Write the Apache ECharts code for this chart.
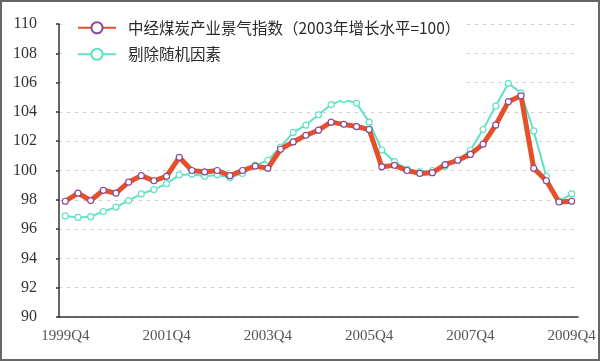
<!DOCTYPE html>
<html>
<head>
<meta charset="utf-8">
<script src="https://cdn.jsdelivr.net/npm/echarts@6/dist/echarts.min.js"></script>
<style>
html,body{margin:0;padding:0;background:#fff;}
#chart{width:600px;height:361px;}
</style>
</head>
<body>
<div id="chart"></div>
<script>
// Quarters 1999Q4 .. 2009Q4
const categories = [];
categories.push('1999Q4');
for (let y = 2000; y <= 2009; y++) { for (let q = 1; q <= 4; q++) categories.push(y + 'Q' + q); }

const seriesNames = ['中经煤炭产业景气指数（2003年增长水平=100）', '剔除随机因素'];

const indexValues = [
  97.9, 98.45, 97.95, 98.65, 98.45, 99.2, 99.65, 99.3, 99.6, 100.9,
  100.0, 99.9, 100.0, 99.65, 100.0, 100.3, 100.15, 101.45, 101.95, 102.4,
  102.75, 103.3, 103.15, 103.0, 102.8, 100.25, 100.35, 100.0, 99.8, 99.85,
  100.4, 100.7, 101.1, 101.8, 103.1, 104.7, 105.1, 100.15, 99.3, 97.85,
  97.9
];

const adjustedValues = [
  96.9, 96.8, 96.85, 97.2, 97.5, 97.95, 98.4, 98.7, 99.1, 99.7,
  99.75, 99.6, 99.7, 99.5, 99.8, 100.35, 100.7, 101.6, 102.6, 103.1,
  103.8, 104.5, 104.85, 104.6, 103.3, 101.4, 100.6, 100.1, 99.9, 100.0,
  100.3, 100.7, 101.4, 102.8, 104.4, 105.95, 105.3, 102.7, 99.6, 97.9,
  98.4
];

const yMin = 90, yMax = 110, yStep = 2;

const chart = echarts.init(document.getElementById('chart'), null, {renderer: 'canvas'});
chart.setOption({
  animation: false,
  backgroundColor: '#fff',
  graphic: [{
    type: 'rect', z: 100, silent: true,
    shape: {x: 1, y: 1, width: 598, height: 359},
    style: {fill: null, stroke: '#666', lineWidth: 2}
  }],
  grid: {left: 59, right: 22, top: 24, bottom: 44, containLabel: false},
  legend: {
    orient: 'vertical',
    left: 62, top: 8,
    padding: [12, 6, 38, 15],
    itemGap: 11,
    itemWidth: 38, itemHeight: 14,
    backgroundColor: '#fff',
    z: 10,
    data: seriesNames,
    textStyle: {fontFamily: '"Noto Sans CJK SC"', fontSize: 15.5, color: '#2a2a2a', padding: [0, 0, 0, 7]}
  },
  xAxis: {
    type: 'category',
    data: categories,
    boundaryGap: true,
    axisLine: {lineStyle: {color: '#333', width: 1.5}},
    axisTick: {inside: true, length: 4, interval: 3, lineStyle: {color: '#333'}},
    axisLabel: {interval: 7, margin: 12, fontFamily: '"Liberation Serif"', fontSize: 15, color: '#555'},
    splitLine: {show: false}
  },
  yAxis: {
    type: 'value',
    min: yMin, max: yMax, interval: yStep,
    axisLine: {show: true, lineStyle: {color: '#333', width: 1.5}},
    axisTick: {show: true, inside: false, length: 3, lineStyle: {color: '#333', width: 1.5}},
    axisLabel: {margin: 22, fontFamily: '"Liberation Serif"', fontSize: 16, color: '#333'},
    splitLine: {show: true, lineStyle: {color: '#cfcfcf', type: [3, 5], width: 1}}
  },
  series: [
    {
      name: seriesNames[0],
      type: 'line',
      data: indexValues,
      z: 3,
      symbol: 'circle', symbolSize: 6,
      lineStyle: {color: '#e4502a', width: 5},
      itemStyle: {color: '#fff', borderColor: '#8a4a9a', borderWidth: 1.2},
      emphasis: {disabled: true}
    },
    {
      name: seriesNames[1],
      type: 'line',
      data: adjustedValues,
      z: 2,
      symbol: 'circle', symbolSize: 6,
      lineStyle: {color: '#5fe3c6', width: 2},
      itemStyle: {color: '#fff', borderColor: '#5fe3c6', borderWidth: 1.2},
      emphasis: {disabled: true}
    }
  ]
});
</script>
</body>
</html>
